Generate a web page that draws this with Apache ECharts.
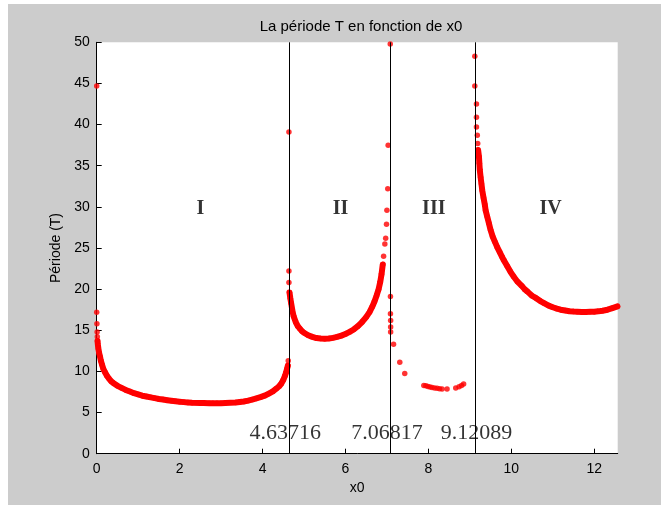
<!DOCTYPE html>
<html>
<head>
<meta charset="utf-8">
<script src="https://cdn.jsdelivr.net/npm/echarts@6/dist/echarts.min.js"></script>
<style>html,body{margin:0;padding:0;background:#fff;}#c{width:671px;height:510px;}</style>
</head>
<body>
<div id="c"></div>
<script>
// ---- data ----
const regionI = [
  [0,44.7],[0,17.2],[0.005,15.8],[0.01,14.8],[0.015,14.2],
  [0.02,13.7],[0.03,13.2],[0.04,12.8],[0.06,12.2],[0.08,11.8],[0.1,11.3],[0.13,10.8],[0.16,10.3],
  [0.2,9.9],[0.25,9.45],[0.3,9.1],[0.35,8.8],[0.4,8.6],[0.5,8.25],[0.6,8.0],[0.7,7.75],[0.8,7.55],
  [0.9,7.35],[1.0,7.2],[1.1,7.05],[1.2,6.95],[1.3,6.85],[1.4,6.75],[1.5,6.65],[1.6,6.58],[1.7,6.5],
  [1.8,6.43],[1.9,6.37],[2.0,6.32],[2.1,6.27],[2.2,6.23],[2.3,6.2],[2.5,6.17],[2.58,6.15],[2.72,6.13],
  [2.8,6.12],[2.9,6.12],[3.0,6.13],[3.1,6.15],[3.35,6.22],[3.45,6.28],[3.55,6.35],[3.65,6.45],
  [3.75,6.58],[3.85,6.72],[3.95,6.87],[4.05,7.05],[4.15,7.3],[4.25,7.58],[4.33,7.9],[4.4,8.2],
  [4.45,8.5],[4.5,8.95],[4.54,9.45],[4.57,9.9],[4.59,10.3],[4.61,10.7],
  [4.62,11.3],[4.637,39.1]
];
const regionII = [
  [4.637,22.2],[4.637,20.8],
  [4.65,19.6],[4.67,18.9],[4.69,18.3],[4.72,17.4],[4.75,16.7],[4.8,16.0],[4.85,15.5],[4.9,15.2],
  [4.95,14.9],[5.0,14.7],[5.1,14.4],[5.2,14.2],[5.3,14.05],[5.4,14.0],[5.5,13.98],[5.6,14.0],
  [5.7,14.08],[5.8,14.2],[5.9,14.35],[6.0,14.55],[6.1,14.8],[6.2,15.1],[6.3,15.5],[6.4,16.0],
  [6.5,16.6],[6.58,17.2],[6.65,17.9],[6.7,18.5],[6.75,19.2],[6.8,20.0],[6.84,20.9],[6.87,21.8],[6.9,23.0],
  [6.92,24.0],[6.95,25.5],[6.97,26.2],[6.99,27.9],[7.0,29.6],[7.02,32.2],[7.03,37.5],[7.08,49.8]
];
const regionIII = [
  [7.085,19.1],[7.085,17.0],[7.09,16.2],[7.09,15.4],[7.09,14.8],[7.16,13.3],[7.31,11.1],[7.43,9.76],
  [7.89,8.3],[7.94,8.25],[7.99,8.18],[8.04,8.1],[8.09,8.04],[8.15,7.98],[8.21,7.94],[8.27,7.9],
  [8.33,7.86],[8.45,7.86],[8.66,7.98],[8.74,8.15],[8.8,8.3],[8.85,8.46]
];
const regionIV = [
  [9.12,48.3],[9.12,44.7],[9.16,42.5],[9.16,40.9],[9.16,39.7],[9.18,38.7],[9.19,37.7],
  [9.2,36.9],[9.22,36.1],[9.23,35.3],[9.24,34.5],[9.26,33.6],[9.28,32.8],[9.3,32.0],[9.33,31.1],
  [9.36,30.3],[9.38,29.6],[9.42,28.8],[9.46,28.0],[9.5,27.2],[9.55,26.4],[9.6,25.8],[9.66,25.1],
  [9.72,24.5],[9.78,23.9],[9.82,23.5],[9.9,22.8],[9.98,22.1],[10.06,21.5],[10.15,20.9],[10.25,20.4],
  [10.32,20.0],[10.39,19.7],[10.5,19.2],[10.6,18.9],[10.7,18.55],[10.79,18.3],[10.9,18.0],[11.0,17.8],
  [11.1,17.63],[11.19,17.5],[11.3,17.4],[11.4,17.32],[11.5,17.27],[11.59,17.25],[11.7,17.23],
  [11.8,17.23],[11.9,17.24],[12.0,17.25],[12.1,17.3],[12.2,17.38],[12.32,17.5],[12.44,17.7],[12.56,17.9]
];
const boundaries = [4.63716, 7.06817, 9.12089];
const boundaryLabels = ['4.63716', '7.06817', '9.12089'];
const boundaryLabelX = [4.55, 7.0, 9.16];
const boundaryLabelY = 2.5;
const regionNames = ['I', 'II', 'III', 'IV'];
const regionNameX = [2.5, 5.88, 8.13, 10.95];
const regionNameY = 29.8;
const xMax = 4 * Math.PI;

// ---- chart ----
const chart = echarts.init(document.getElementById('c'), null, {renderer: 'canvas'});
const red = '#ff0000';
const sans = 'Liberation Sans';
const serif = 'Liberation Serif';
const axisCommon = {
  axisLine: {show: true, lineStyle: {color: '#000', width: 1}},
  axisTick: {show: true, inside: true, length: 5, lineStyle: {color: '#000'}},
  splitLine: {show: false},
  nameTextStyle: {color: '#000', fontSize: 14, fontFamily: sans}
};
const denseLine = (d) => ({
  type: 'line', data: d, showSymbol: false, symbol: 'none', silent: true,
  lineStyle: {color: red, width: 6, cap: 'round', join: 'round'}, z: 3, animation: false
});
chart.setOption({
  animation: false,
  backgroundColor: '#ffffff',
  graphic: [{type: 'rect', shape: {x: 8, y: 4, width: 653, height: 501}, style: {fill: '#cccccc'}, z: -10, silent: true}],
  title: {
    text: 'La période T en fonction de x0', left: 356, top: 14, textAlign: 'center',
    textStyle: {fontSize: 15, fontWeight: 'normal', color: '#000', fontFamily: sans}
  },
  grid: {left: 96.7, right: 53.3, top: 42.3, bottom: 56.3, show: true, backgroundColor: '#ffffff', borderWidth: 0},
  xAxis: Object.assign({
    type: 'value', min: 0, max: xMax, interval: 2,
    name: 'x0', nameLocation: 'middle', nameGap: 27,
    axisLabel: {color: '#000', fontSize: 14, fontFamily: sans, margin: 8, showMaxLabel: false}
  }, axisCommon),
  yAxis: Object.assign({
    type: 'value', min: 0, max: 50, interval: 5,
    name: 'Période (T)', nameLocation: 'middle', nameGap: 32,
    axisLabel: {color: '#000', fontSize: 14, fontFamily: sans, margin: 7}
  }, axisCommon),
  series: [
    {
      type: 'scatter', data: [], silent: true, z: 1,
      markLine: {
        silent: true, symbol: ['none', 'none'], label: {show: false},
        lineStyle: {color: '#000', width: 1, type: 'solid'},
        emphasis: {disabled: true},
        data: boundaries.map(v => ({xAxis: v}))
      }
    },
    denseLine(regionI.slice(5, 62)),
    denseLine(regionII.slice(2, 35)),
    denseLine(regionIV.slice(7)),
    {
      type: 'scatter', silent: true, z: 4,
      data: regionI.concat(regionII, regionIII, regionIV),
      symbol: 'circle', symbolSize: 5.5, itemStyle: {color: red}
    },
    {
      type: 'scatter', silent: true, z: 5, symbolSize: 1, itemStyle: {color: 'rgba(0,0,0,0)'},
      data: regionNames.map((t, i) => ({name: t, value: [regionNameX[i], regionNameY]})),
      label: {show: true, position: 'inside', formatter: '{b}', color: '#000', fontSize: 20, fontWeight: 'bold', fontFamily: serif}
    },
    {
      type: 'scatter', silent: true, z: 5, symbolSize: 1, itemStyle: {color: 'rgba(0,0,0,0)'},
      data: boundaryLabels.map((t, i) => ({name: t, value: [boundaryLabelX[i], boundaryLabelY]})),
      label: {show: true, position: 'inside', formatter: '{b}', color: '#000', fontSize: 22, fontFamily: serif}
    }
  ]
});
</script>
</body>
</html>
